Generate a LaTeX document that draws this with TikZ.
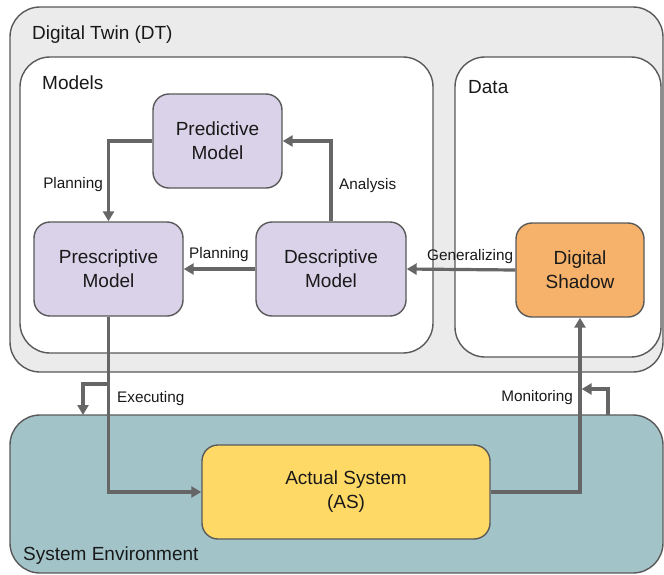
\documentclass[tikz,border=0pt]{standalone}
\usepackage{fontspec}
\setmainfont{Liberation Sans}
\usetikzlibrary{arrows.meta}
\definecolor{dtgray}{HTML}{EBEBEB}
\definecolor{bordergray}{HTML}{595959}
\definecolor{arrowgray}{HTML}{666666}
\definecolor{lavender}{HTML}{D9D2E9}
\definecolor{shadoworange}{HTML}{F6B26B}
\definecolor{asyellow}{HTML}{FFD966}
\definecolor{envteal}{HTML}{A2C4C9}
\tikzset{
  container/.style={draw=bordergray, line width=1.4pt, rounded corners=30pt, inner sep=0pt},
  modelbox/.style={draw=bordergray, line width=1.4pt, rounded corners=16pt, inner sep=0pt,
    align=center, font=\fontsize{19}{24}\selectfont, text=black!90},
  title/.style={inner sep=0pt, font=\fontsize{19}{24}\selectfont, text=black!90,
    text height=14pt, text depth=4pt},
  lbl/.style={inner sep=0pt, font=\fontsize{15.3}{18}\selectfont, text=black!90,
    text height=11pt, text depth=3pt},
  arr/.style={draw=arrowgray, line width=3.2pt, -{Triangle[length=10pt,width=11pt]}}
}
\begin{document}
\begin{tikzpicture}[x=1pt,y=-1pt]
\useasboundingbox (0,0) rectangle (664,574);
% containers
\node[container, fill=dtgray, minimum width=653pt, minimum height=365pt] (dt) at (336.5,189.5) {};
\node[container, fill=white, minimum width=413pt, minimum height=296pt] (models) at (226.5,205) {};
\node[container, fill=white, minimum width=206pt, minimum height=300pt] (data) at (558,207) {};
\node[container, fill=envteal, minimum width=653pt, minimum height=158pt] (env) at (336.5,494) {};
% container titles
\node[title, anchor=west] (dttitle) at (32,34) {Digital Twin (DT)};
\node[title, anchor=west] (modelstitle) at (42,84) {Models};
\node[title, anchor=west] (datatitle) at (468,88) {Data};
\node[title, anchor=west] (envtitle) at (23,555) {System Environment};
% boxes
\node[modelbox, fill=lavender, minimum width=129pt, minimum height=94pt] (pred) at (217.5,141) {Predictive\\Model};
\node[modelbox, fill=lavender, minimum width=149pt, minimum height=94pt] (presc) at (108.5,269) {Prescriptive\\Model};
\node[modelbox, fill=lavender, minimum width=150pt, minimum height=94pt] (desc) at (331,269) {Descriptive\\Model};
\node[modelbox, fill=shadoworange, minimum width=128pt, minimum height=94pt] (shadow) at (580,270) {Digital\\Shadow};
\node[modelbox, fill=asyellow, minimum width=288pt, minimum height=94pt] (as) at (346,492) {Actual System\\(AS)};
% connectors
\draw[arr] (pred.west) -| (presc.north);
\draw[arr] (desc.north) |- (pred.east);
\draw[arr] (desc.west) -- (presc.east);
\draw[arr] (shadow.west) -- (desc.east);
\draw[arr] (presc.south) |- (as.west);
\draw[arr] (as.east) -| (shadow.south);
\coordinate (exA) at (108.5,384);
\coordinate (exB) at (83,415);
\draw[arr] (exA) -| (exB);
\coordinate (moA) at (608,415);
\coordinate (moB) at (580,389);
\draw[arr, shorten >=1.6pt] (moA) |- (moB);
% connector labels
\node[lbl, anchor=east] (l1) at (103,184) {Planning};
\node[lbl, anchor=west] (l2) at (339,185) {Analysis};
\node[lbl, anchor=west] (l3) at (189,254) {Planning};
\node[lbl, anchor=west] (l4) at (427,256) {Generalizing};
\node[lbl, anchor=west] (l5) at (117,398) {Executing};
\node[lbl, anchor=east] (l6) at (573,397) {Monitoring};
\end{tikzpicture}
\end{document}
